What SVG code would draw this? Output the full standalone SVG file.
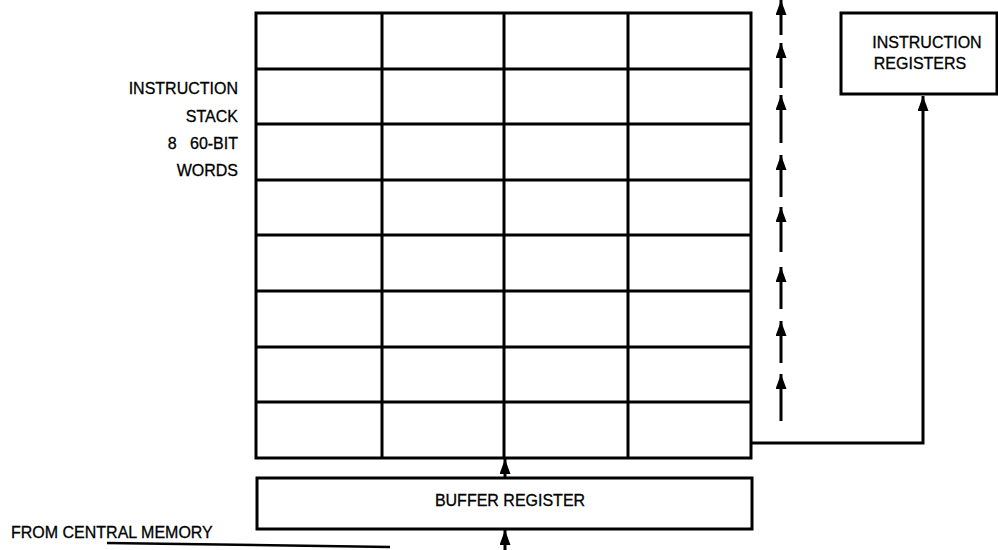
<svg xmlns="http://www.w3.org/2000/svg" width="998" height="550" viewBox="0 0 998 550">
<defs>
<marker id="ah" viewBox="0 0 15 11" refX="15" refY="5.5" markerWidth="15" markerHeight="11" markerUnits="userSpaceOnUse" orient="auto">
<path d="M0 0 L15 5.5 L0 11 Z" fill="#000"/>
</marker>
<style>
.ln{stroke:#000;stroke-width:3;fill:none}
.box{stroke:#000;stroke-width:3;fill:#fff}
.t{font-family:"Liberation Sans",Arial,sans-serif;font-size:16px;fill:#000;stroke:#000;stroke-width:0.3}
</style>
</defs>
<rect width="998" height="550" fill="#fff"/>
<g id="stack">
<rect class="box" x="256" y="13" width="495" height="445"/>
<path class="ln" d="M382 13V458M504 13V458M628 13V458M256 69H751M256 124H751M256 180H751M256 235H751M256 291H751M256 347H751M256 402H751"/>
</g>
<g id="stack-label">
<text class="t" x="238" y="94" text-anchor="end" font-size="16.5">INSTRUCTION</text>
<text class="t" x="238" y="122" text-anchor="end">STACK</text>
<text class="t" x="238" y="149" text-anchor="end" xml:space="preserve">8   60-BIT</text>
<text class="t" x="238" y="176" text-anchor="end">WORDS</text>
</g>
<g id="instr-regs">
<rect class="box" x="841" y="13" width="156" height="81"/>
<text class="t" x="927" y="48" text-anchor="middle">INSTRUCTION</text>
<text class="t" x="920" y="69" text-anchor="middle">REGISTERS</text>
</g>
<g id="buffer">
<rect class="box" x="257" y="478" width="495" height="51"/>
<text class="t" x="510" y="506" text-anchor="middle" font-size="15">BUFFER REGISTER</text>
</g>
<g id="source">
<text class="t" x="11" y="538">FROM CENTRAL MEMORY</text>
</g>
<g id="connectors">
<path class="ln" d="M781 35V0" marker-end="url(#ah)"/>
<path class="ln" d="M781 88V43" marker-end="url(#ah)"/>
<path class="ln" d="M781 143V95" marker-end="url(#ah)"/>
<path class="ln" d="M781 197V155" marker-end="url(#ah)"/>
<path class="ln" d="M781 252V207" marker-end="url(#ah)"/>
<path class="ln" d="M781 309V267" marker-end="url(#ah)"/>
<path class="ln" d="M781 363V321" marker-end="url(#ah)"/>
<path class="ln" d="M781 421V374" marker-end="url(#ah)"/>
<path class="ln" d="M751 443H923V96" marker-end="url(#ah)"/>
<path class="ln" d="M505 478V459" marker-end="url(#ah)"/>
<path class="ln" d="M505 550V530" marker-end="url(#ah)"/>
<path d="M107 543L390 547" stroke="#000" stroke-width="2.5" fill="none"/>
</g>
</svg>
